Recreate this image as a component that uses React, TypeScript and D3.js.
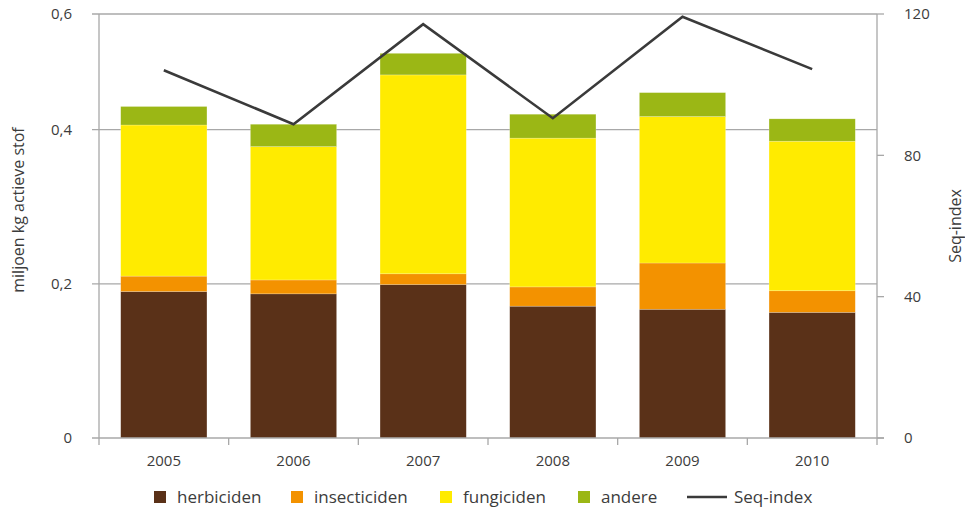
import React from "react";
import * as d3 from "d3";

const years = ["2005", "2006", "2007", "2008", "2009", "2010"];
const herbiciden = [0.19, 0.187, 0.199, 0.171, 0.167, 0.163];
const insecticiden = [0.02, 0.018, 0.014, 0.025, 0.06, 0.028];
const fungiciden = [0.196, 0.173, 0.258, 0.193, 0.19, 0.194];
const andere = [0.024, 0.029, 0.028, 0.031, 0.031, 0.029];
const seqIndex = [104.1, 88.8, 117.1, 90.5, 119.2, 104.4];

const leftTicks = [0, 0.2, 0.4, 0.55];
const leftTickLabels = ["0", "0,2", "0,4", "0,6"];
const rightTicks = [0, 40, 80, 120];

const seriesNames = ["herbiciden", "insecticiden", "fungiciden", "andere"];
const seriesColors = ["#5a3118", "#f39200", "#ffeb00", "#9bb715"];
const lineColor = "#3a3a3a";

const W = 965;
const H = 509;
const m = { left: 99, right: 88, top: 14, bottom: 71 };
const FONT = "'Open Sans', 'Noto Sans', sans-serif";
const TEXT = "#3c3c3c";
const GRID = "#a8a8a8";

export default function App() {
  const x = d3
    .scaleBand()
    .domain(years)
    .range([m.left, W - m.right])
    .paddingInner(0.335)
    .paddingOuter(0.1675);
  const step = x.step();
  const yL = d3.scaleLinear().domain([0, 0.55]).range([H - m.bottom, m.top]);
  const yR = d3.scaleLinear().domain([0, 120]).range([H - m.bottom, m.top]);

  const rows = years.map((y, i) => ({
    year: y,
    herbiciden: herbiciden[i],
    insecticiden: insecticiden[i],
    fungiciden: fungiciden[i],
    andere: andere[i],
  }));
  const stacked = d3.stack<any>().keys(seriesNames)(rows);

  const line = d3
    .line<number>()
    .x((_d, i) => (x(years[i]) as number) + x.bandwidth() / 2)
    .y((d) => yR(d));

  const x0 = m.left;
  const x1 = W - m.right;
  const yBase = H - m.bottom;

  const legendItems = [
    { label: "herbiciden", x: 154, color: seriesColors[0] },
    { label: "insecticiden", x: 291, color: seriesColors[1] },
    { label: "fungiciden", x: 440, color: seriesColors[2] },
    { label: "andere", x: 578, color: seriesColors[3] },
  ];

  return (
    <svg
      width={W}
      height={H}
      style={{ position: "absolute", left: 0, top: 0, background: "#fff" }}
      fontFamily={FONT}
    >
      {/* gridlines */}
      {leftTicks
        .filter((t) => t > 0)
        .map((t) => (
          <line key={t} x1={x0 - 7} x2={x1} y1={yL(t)} y2={yL(t)} stroke={GRID} strokeWidth={1.3} />
        ))}

      {/* bars */}
      {stacked.map((s, si) => (
        <g key={s.key} fill={seriesColors[si]}>
          {s.map((d, i) => (
            <rect
              key={i}
              x={x(years[i])}
              width={x.bandwidth()}
              y={yL(d[1])}
              height={yL(d[0]) - yL(d[1])}
              stroke="rgba(255,255,255,0.35)"
              strokeWidth={0.6}
            />
          ))}
        </g>
      ))}

      {/* axes */}
      <line x1={x0} x2={x0} y1={m.top} y2={yBase + 7} stroke={GRID} strokeWidth={1.3} />
      <line x1={x1} x2={x1} y1={m.top} y2={yBase + 7} stroke={GRID} strokeWidth={1.3} />
      <line x1={x0 - 7} x2={x1 + 7} y1={yBase} y2={yBase} stroke={GRID} strokeWidth={1.3} />
      {years.slice(1).map((y) => (
        <line
          key={y}
          x1={(x(y) as number) - (step - x.bandwidth()) / 2}
          x2={(x(y) as number) - (step - x.bandwidth()) / 2}
          y1={yBase}
          y2={yBase + 7}
          stroke={GRID}
          strokeWidth={1.3}
        />
      ))}
      {rightTicks.map((t) => (
        <line key={t} x1={x1} x2={x1 + 7} y1={yR(t)} y2={yR(t)} stroke={GRID} strokeWidth={1.3} />
      ))}

      {/* tick labels */}
      {leftTicks.map((t, i) => (
        <text
          key={t}
          x={72}
          y={yL(t)}
          dy="0.35em"
          textAnchor="end"
          fontSize={15}
          fill={TEXT}
        >
          {leftTickLabels[i]}
        </text>
      ))}
      {rightTicks.map((t) => (
        <text key={t} x={904} y={yR(t)} dy="0.35em" fontSize={15} fill={TEXT}>
          {t}
        </text>
      ))}
      {years.map((y) => (
        <text
          key={y}
          x={(x(y) as number) + x.bandwidth() / 2}
          y={461}
          dy="0.35em"
          textAnchor="middle"
          fontSize={15}
          fill={TEXT}
        >
          {y}
        </text>
      ))}

      {/* axis titles */}
      <text
        transform={`translate(18,${(m.top + yBase) / 2 - 16}) rotate(-90)`}
        textAnchor="middle"
        dy="0.35em"
        fontSize={16}
        fill={TEXT}
      >
        miljoen kg actieve stof
      </text>
      <text
        transform={`translate(955,${(m.top + yBase) / 2}) rotate(-90)`}
        textAnchor="middle"
        dy="0.35em"
        fontSize={16}
        fill={TEXT}
      >
        Seq-index
      </text>

      {/* seq-index line */}
      <path d={line(seqIndex) || ""} fill="none" stroke={lineColor} strokeWidth={2.6} />

      {/* legend */}
      {legendItems.map((l) => (
        <g key={l.label}>
          <rect x={l.x} y={491} width={12} height={12} fill={l.color} />
          <text x={l.x + 23} y={497} dy="0.35em" fontSize={17} fill={TEXT}>
            {l.label}
          </text>
        </g>
      ))}
      <line x1={687} x2={727} y1={497} y2={497} stroke={lineColor} strokeWidth={2.6} />
      <text x={734} y={497} dy="0.35em" fontSize={17} fill={TEXT}>
        Seq-index
      </text>
    </svg>
  );
}
